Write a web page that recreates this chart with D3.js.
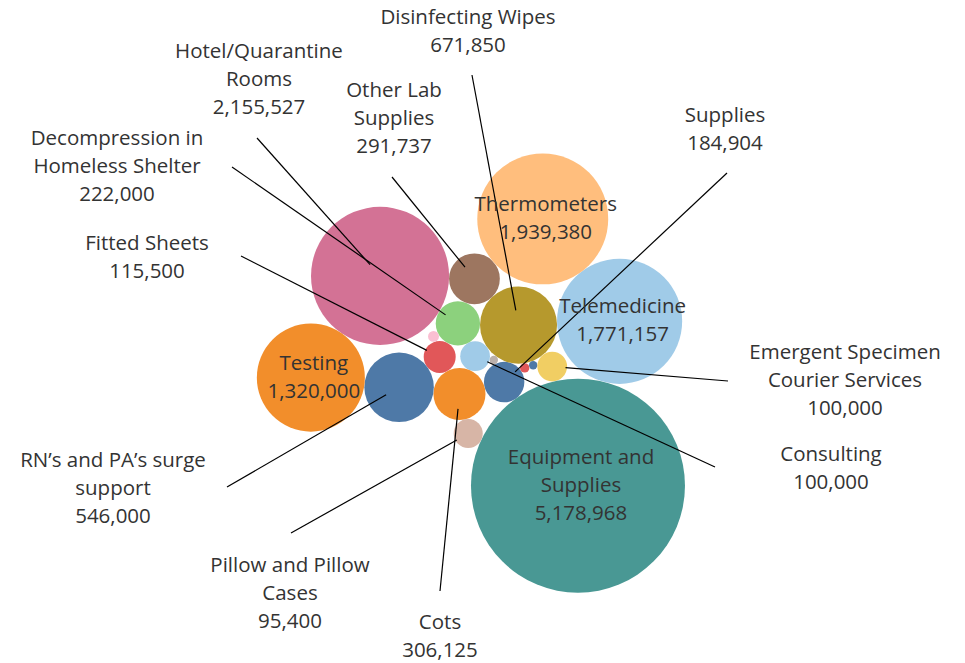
<!DOCTYPE html>
<html>

<head>
  <meta charset="utf-8" />
  <title>Spending by item</title>
  <style>
    body { margin: 0; background: #fff; }
    text { font-family: "Open Sans", "Noto Sans", sans-serif; font-size: 20.5px; fill: #333; }
  </style>
</head>

<body>
  <svg id="chart" width="965" height="663"></svg>

  <script src="https://cdn.jsdelivr.net/npm/d3@7/dist/d3.min.js"></script>

  <script>
    // bubbles, listed in the order they are fed to the packer
    var categories = [
      'Supplies', 'Disinfecting Wipes', 'Small item B', 'Small item C', 'Consulting',
      'Small item D', 'Cots', 'Emergent Specimen Courier Services',
      'Decompression in Homeless Shelter', 'Equipment and Supplies', 'Telemedicine',
      'Other Lab Supplies', 'Fitted Sheets', 'Thermometers', 'Pillow and Pillow Cases',
      'Hotel/Quarantine Rooms', 'Small item A', 'RN’s and PA’s surge support', 'Testing'
    ]
    var values = [
      184904, 671850, 8000, 10000, 100000,
      8000, 306125, 100000,
      222000, 5178968, 1771157,
      291737, 115500, 1939380, 95400,
      2155527, 13500, 546000, 1320000
    ]
    var colors = [
      '#4E79A7', '#B6992D', '#BAB0AC', '#E15759', '#A0CBE8',
      '#4E79A7', '#F28E2B', '#F1CE63',
      '#8CD17D', '#499894', '#A0CBE8',
      '#9D7660', '#E15759', '#FFBE7D', '#D7B5A6',
      '#D37295', '#FABFD2', '#4E79A7', '#F28E2B'
    ]

    // labels drawn inside their bubble
    var insideLabels = {
      'Equipment and Supplies': ['Equipment and', 'Supplies'],
      'Thermometers': ['Thermometers'],
      'Telemedicine': ['Telemedicine'],
      'Testing': ['Testing']
    }
    // labels pulled out of the pack: text lines, text centre x, first baseline, leader line start
    var outsideLabels = {
      'Disinfecting Wipes': { lines: ['Disinfecting Wipes'], x: 468, y: 24, from: [472, 75] },
      'Hotel/Quarantine Rooms': { lines: ['Hotel/Quarantine', 'Rooms'], x: 259, y: 58, from: [257, 138] },
      'Other Lab Supplies': { lines: ['Other Lab', 'Supplies'], x: 394, y: 97, from: [392, 177] },
      'Decompression in Homeless Shelter': { lines: ['Decompression in', 'Homeless Shelter'], x: 117, y: 145, from: [232, 167] },
      'Fitted Sheets': { lines: ['Fitted Sheets'], x: 147, y: 250, from: [241, 256] },
      'Supplies': { lines: ['Supplies'], x: 725, y: 122, from: [727, 173] },
      'Emergent Specimen Courier Services': { lines: ['Emergent Specimen', 'Courier Services'], x: 845, y: 359, from: [728, 381] },
      'Consulting': { lines: ['Consulting'], x: 831, y: 461, from: [715, 467] },
      'RN’s and PA’s surge support': { lines: ['RN’s and PA’s surge', 'support'], x: 113, y: 467, from: [227, 487] },
      'Pillow and Pillow Cases': { lines: ['Pillow and Pillow', 'Cases'], x: 290, y: 572, from: [291, 533] },
      'Cots': { lines: ['Cots'], x: 440, y: 629, from: [440, 591] }
    }

    var lineHeight = 28
    var fmt = d3.format(',')

    // the packed siblings are mirrored, turned and moved to the middle of the view
    var packCenter = [494.7, 384.58]
    var packAngle = -75.826 * Math.PI / 180
    var packMirror = -1

    var r = d3.scaleSqrt()
      .domain([0, d3.max(values)])
      .range([0, 107])

    var nodes = categories.map(function (c, i) {
      return { name: c, value: values[i], color: colors[i], r: r(values[i]) }
    })
    d3.packSiblings(nodes)

    var cos = Math.cos(packAngle), sin = Math.sin(packAngle)
    nodes.forEach(function (d) {
      var y = packMirror * d.y
      d.cx = packCenter[0] + cos * d.x - sin * y
      d.cy = packCenter[1] + sin * d.x + cos * y
    })

    var svg = d3.select('#chart')

    svg.append('g')
      .selectAll('circle')
      .data(nodes)
      .enter()
      .append('circle')
      .attr('cx', function (d) { return d.cx })
      .attr('cy', function (d) { return d.cy })
      .attr('r', function (d) { return d.r })
      .style('fill', function (d) { return d.color })

    var outside = nodes.filter(function (d) { return outsideLabels[d.name] })

    // leader lines stop a little inside the bubble, on the side facing the label
    function end(d) {
      var f = outsideLabels[d.name].from
      var dx = f[0] - d.cx, dy = f[1] - d.cy
      var len = Math.sqrt(dx * dx + dy * dy)
      var k = Math.min(15, d.r * 0.9) / len
      return [d.cx + dx * k, d.cy + dy * k]
    }

    svg.append('g')
      .selectAll('line')
      .data(outside)
      .enter()
      .append('line')
      .attr('x1', function (d) { return outsideLabels[d.name].from[0] })
      .attr('y1', function (d) { return outsideLabels[d.name].from[1] })
      .attr('x2', function (d) { return end(d)[0] })
      .attr('y2', function (d) { return end(d)[1] })
      .style('stroke', '#000')
      .style('stroke-width', 1.2)

    svg.append('g')
      .selectAll('text')
      .data(outside)
      .enter()
      .append('text')
      .attr('text-anchor', 'middle')
      .attr('x', function (d) { return outsideLabels[d.name].x })
      .attr('y', function (d) { return outsideLabels[d.name].y })
      .each(function (d) {
        var lab = outsideLabels[d.name]
        d3.select(this).selectAll('tspan')
          .data(lab.lines.concat([fmt(d.value)]))
          .enter()
          .append('tspan')
          .attr('x', lab.x)
          .attr('dy', function (t, i) { return i ? lineHeight : 0 })
          .text(function (t) { return t })
      })

    var inside = nodes.filter(function (d) { return insideLabels[d.name] })

    svg.append('g')
      .selectAll('text')
      .data(inside)
      .enter()
      .append('text')
      .attr('text-anchor', 'middle')
      .attr('x', function (d) { return d.cx + 3 })
      .attr('y', function (d) { return d.cy - lineHeight * insideLabels[d.name].length / 2 + 6 })
      .each(function (d) {
        var x = d.cx + 3
        d3.select(this).selectAll('tspan')
          .data(insideLabels[d.name].concat([fmt(d.value)]))
          .enter()
          .append('tspan')
          .attr('x', x)
          .attr('dy', function (t, i) { return i ? lineHeight : 0 })
          .text(function (t) { return t })
      })
  </script>

</body>

</html>
